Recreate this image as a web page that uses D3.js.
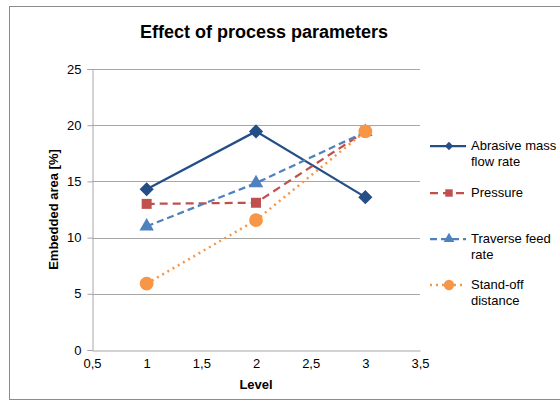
<!DOCTYPE html>
<html>
<head>
<meta charset="utf-8">
<script src="https://cdn.jsdelivr.net/npm/d3@7"></script>
<style>
  body { margin: 0; background: #fff; }
  text { font-family: "Liberation Sans", Arial, sans-serif; }
</style>
</head>
<body>
<div id="main"></div>
<script>
const ctx = { w: 560, h: 401 };
const margin = { top: 69, left: 92, right: 140, bottom: 51 };

// data
const levels = [1, 2, 3];
const seriesNames = ["Abrasive mass flow rate", "Pressure", "Traverse feed rate", "Stand-off distance"];
const abrasive = [14.3, 19.45, 13.6];
const pressure = [13.0, 13.1, 19.45];
const traverse = [11.0, 14.85, 19.4];
const standoff = [5.9, 11.55, 19.45];
const xTicks = [0.5, 1, 1.5, 2, 2.5, 3, 3.5];
const yTicks = [0, 5, 10, 15, 20, 25];

// diamond = square turned 45 degrees (d3.symbolDiamond is too tall)
const series = [
  { name: seriesNames[0], values: abrasive, color: "#254E86", dash: null, width: 2.25, marker: d3.symbolSquare, rot: 45, size: 100, legend: ["Abrasive mass", "flow rate"] },
  { name: seriesNames[1], values: pressure, color: "#C0504D", dash: "8,5", width: 2.25, marker: d3.symbolSquare, rot: 0, size: 100, legend: ["Pressure"] },
  { name: seriesNames[2], values: traverse, color: "#4F81BD", dash: "7,4", width: 2.25, marker: d3.symbolTriangle, rot: 0, size: 90, legend: ["Traverse feed", "rate"] },
  { name: seriesNames[3], values: standoff, color: "#F79646", dash: "2,4", width: 2.5, marker: d3.symbolCircle, rot: 0, size: 150, legend: ["Stand-off", "distance"] }
];

function createViz() {
  const svg = d3.select("#main").append("svg")
      .attr("width", ctx.w)
      .attr("height", ctx.h);

  // chart area border
  svg.append("rect")
      .attr("x", 9.5).attr("y", 6.5)
      .attr("width", ctx.w).attr("height", 393)
      .attr("fill", "#fff")
      .attr("stroke", "#8c8c8c");

  const pw = ctx.w - margin.left - margin.right;
  const ph = ctx.h - margin.top - margin.bottom;

  const x = d3.scaleLinear().domain([0.5, 3.5]).range([margin.left, margin.left + pw]);
  const y = d3.scaleLinear().domain([0, 25]).range([margin.top + ph, margin.top]);

  // gridlines
  svg.append("g")
    .selectAll("line")
    .data(yTicks.filter(d => d > 0))
    .enter().append("line")
      .attr("x1", x(0.5)).attr("x2", x(3.5))
      .attr("y1", d => Math.round(y(d)) + 0.5).attr("y2", d => Math.round(y(d)) + 0.5)
      .attr("stroke", "#a6a6a6");

  // axes
  const yAxis = svg.append("g")
      .attr("transform", `translate(${Math.round(x(0.5)) + 0.5},0)`)
      .call(d3.axisLeft(y).tickValues(yTicks).tickSize(5).tickPadding(6).tickFormat(d3.format("d")));
  const xAxis = svg.append("g")
      .attr("transform", `translate(0,${Math.round(y(0)) + 0.5})`)
      .call(d3.axisBottom(x).tickValues(xTicks).tickSize(0).tickPadding(8)
        .tickFormat(d => String(d).replace(".", ",")));
  [yAxis, xAxis].forEach(a => {
    a.select(".domain").attr("stroke", "#a6a6a6");
    a.selectAll(".tick line").attr("stroke", "#a6a6a6");
    a.selectAll("text").style("font-size", "13px").attr("fill", "#000");
  });

  // title and axis labels
  svg.append("text")
      .attr("x", 264).attr("y", 38)
      .attr("text-anchor", "middle")
      .style("font-size", "18px").style("font-weight", "bold")
      .text("Effect of process parameters");
  svg.append("text")
      .attr("transform", `translate(58,${y(12.5)}) rotate(-90)`)
      .attr("text-anchor", "middle")
      .style("font-size", "13px").style("font-weight", "bold")
      .text("Embedded area [%]");
  svg.append("text")
      .attr("x", x(2)).attr("y", 389)
      .attr("text-anchor", "middle")
      .style("font-size", "13px").style("font-weight", "bold")
      .text("Level");

  // lines and markers
  const line = d3.line().x((d, i) => x(levels[i])).y(d => y(d));
  series.forEach(s => {
    svg.append("path")
        .datum(s.values)
        .attr("d", line)
        .attr("fill", "none")
        .attr("stroke", s.color)
        .attr("stroke-width", s.width)
        .attr("stroke-dasharray", s.dash);
    svg.append("g").selectAll("path")
        .data(s.values)
        .enter().append("path")
          .attr("transform", (d, i) => `translate(${x(levels[i])},${y(d)}) rotate(${s.rot})`)
          .attr("d", d3.symbol().type(s.marker).size(s.size))
          .attr("fill", s.color);
  });

  // legend
  const legendY = [146, 193, 239, 285];
  series.forEach((s, i) => {
    const g = svg.append("g").attr("transform", `translate(430,${legendY[i]})`);
    g.append("line")
        .attr("x1", 0).attr("x2", 36)
        .attr("stroke", s.color).attr("stroke-width", s.width)
        .attr("stroke-dasharray", s.dash);
    g.append("path")
        .attr("transform", `translate(19,0) rotate(${s.rot})`)
        .attr("d", d3.symbol().type(s.marker).size(s.size * (i === 0 ? 0.35 : 0.55)))
        .attr("fill", s.color);
    s.legend.forEach((t, k) => {
      g.append("text")
          .attr("x", 41).attr("y", 4 + k * 16)
          .style("font-size", "13px")
          .text(t);
    });
  });
}

createViz();
</script>
</body>
</html>
